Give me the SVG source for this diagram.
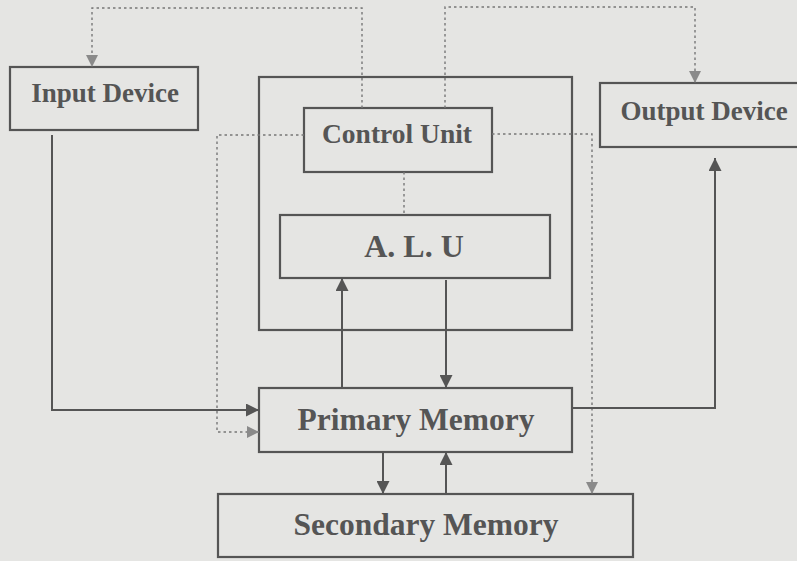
<svg xmlns="http://www.w3.org/2000/svg" width="797" height="561" viewBox="0 0 797 561">
<defs>
<style>
.box{fill:none;stroke:#555;stroke-width:2.2}
.lbl{font-family:"Liberation Serif","Times New Roman",serif;font-weight:bold;fill:#555;text-anchor:middle}
.solid{fill:none;stroke:#555;stroke-width:2}
.dot{fill:none;stroke:#777;stroke-width:1.4;stroke-dasharray:2.5 3}
</style>
<marker id="ah" viewBox="0 0 10 10" refX="10" refY="5" markerWidth="14" markerHeight="13" markerUnits="userSpaceOnUse" orient="auto">
<path d="M0,0 L10,5 L0,10 Z" fill="#555"/>
</marker>
<marker id="dh" viewBox="0 0 10 10" refX="10" refY="5" markerWidth="13" markerHeight="12" markerUnits="userSpaceOnUse" orient="auto">
<path d="M0,0 L10,5 L0,10 Z" fill="#8a8a8a"/>
</marker>
</defs>
<rect x="0" y="0" width="797" height="561" fill="#e5e5e3"/>
<g id="cpu"><rect class="box" x="259" y="77" width="313" height="253"/></g>
<g id="input-device"><rect class="box" x="10" y="67" width="188" height="63"/><text class="lbl" x="105" y="102" font-size="27">Input Device</text></g>
<g id="output-device"><rect class="box" x="600" y="83" width="210" height="64"/><text class="lbl" x="704" y="120" font-size="27">Output Device</text></g>
<g id="control-unit"><rect class="box" x="304" y="108" width="188" height="64"/><text class="lbl" x="397" y="143" font-size="27.5">Control Unit</text></g>
<g id="alu"><rect class="box" x="280" y="215" width="270" height="63"/><text class="lbl" x="414" y="257" font-size="32">A. L. U</text></g>
<g id="primary-memory"><rect class="box" x="259" y="388" width="313" height="64"/><text class="lbl" x="416" y="430" font-size="31.5">Primary Memory</text></g>
<g id="secondary-memory"><rect class="box" x="218" y="494" width="415" height="63"/><text class="lbl" x="426" y="535" font-size="31.5">Secondary Memory</text></g>
<g id="connectors">
<path class="dot" d="M362,108 V8 H92 V67" marker-end="url(#dh)"/>
<path class="dot" d="M445,108 V7 H695 V83" marker-end="url(#dh)"/>
<path class="dot" d="M304,135 H217 V432 H259" marker-end="url(#dh)"/>
<path class="dot" d="M492,134 H592 V494" marker-end="url(#dh)"/>
<path class="dot" d="M404,172 V215"/>
<path class="solid" d="M52,135 V410 H259" marker-end="url(#ah)"/>
<path class="solid" d="M572,408 H715 V158" marker-end="url(#ah)"/>
<path class="solid" d="M342,388 V278" marker-end="url(#ah)"/>
<path class="solid" d="M446,280 V388" marker-end="url(#ah)"/>
<path class="solid" d="M383,452 V494" marker-end="url(#ah)"/>
<path class="solid" d="M446,494 V452" marker-end="url(#ah)"/>
</g>
</svg>
